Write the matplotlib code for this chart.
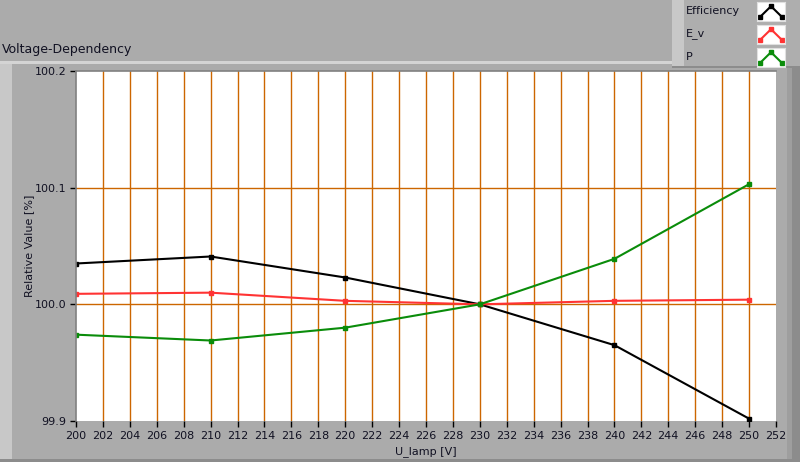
import matplotlib
matplotlib.use("Agg")
from matplotlib import pyplot as plt
from matplotlib.patches import Rectangle

# data
u_lamp = [200, 210, 220, 230, 240, 250]
efficiency = [100.035, 100.041, 100.023, 100.000, 99.965, 99.902]
e_v = [100.009, 100.010, 100.003, 100.000, 100.003, 100.004]
power = [99.974, 99.969, 99.980, 100.000, 100.039, 100.103]

series_names = ["Efficiency", "E_v", "P"]
series_colors = ["#000000", "#FF3333", "#0A8C0A"]

x_ticks = list(range(200, 253, 2))
y_ticks = [99.9, 100.0, 100.1, 100.2]

W, H = 800, 462
BG = "#ABABAB"
GRID = "#CC6600"

fig = plt.figure(figsize=(W / 100, H / 100), dpi=100, facecolor=BG)
plt.rcParams["font.family"] = ["DejaVu Sans"]


def px_rect(x, y, w, h, color, z=-1.0):
    # rectangle in pixel coords (origin top-left), kept behind the axes
    fig.patches.append(Rectangle((x / W, 1 - (y + h) / H), w / W, h / H,
                                 transform=fig.transFigure, facecolor=color,
                                 edgecolor="none", zorder=z))


# frame decoration
px_rect(0, 62, 12, 400, "#C8C8C8")
px_rect(0, 61, 672, 3, "#D4D4D4")
px_rect(787, 62, 5, 400, "#9E9E9E")
px_rect(792, 62, 8, 400, "#8C8C8C")
px_rect(0, 459, 800, 3, "#8C8C8C")

# legend panel
px_rect(672, 0, 128, 68, "#AEAEAE", z=-0.9)
px_rect(672, 0, 12, 68, "#C8C8C8", z=-0.8)
px_rect(672, 66, 128, 2, "#8C8C8C", z=-0.8)

fig.text(2 / W, 1 - 50 / H, "Voltage-Dependency", fontsize=9, color="#111122",
         va="center", ha="left")

ax = fig.add_axes([76 / W, 1 - 421 / H, 700 / W, 350 / H])
ax.set_facecolor("white")

for vals, name, col in zip([efficiency, e_v, power], series_names, series_colors):
    ax.plot(u_lamp, vals, color=col, linewidth=1.5, marker="s", markersize=3,
            label=name, zorder=3)

ax.set_xlim(200, 252)
ax.set_ylim(99.9, 100.2)
ax.set_xticks(x_ticks)
ax.set_xticklabels([str(t) for t in x_ticks])
ax.set_yticks(y_ticks)
ax.set_yticklabels(["%.1f" % t for t in y_ticks])

# grid only inside the plot area (no lines on the frame edges)
for t in x_ticks[1:-1]:
    ax.axvline(t, color=GRID, linewidth=1.0, zorder=1)
for t in y_ticks[1:-1]:
    ax.axhline(t, color=GRID, linewidth=1.0, zorder=1)

ax.tick_params(axis="both", direction="out", length=4, width=1, color="black",
               labelsize=8, labelcolor="#111122", pad=3)
for side in ["right", "bottom"]:
    ax.spines[side].set_visible(False)
for side in ["left", "top"]:
    ax.spines[side].set_color("#808080")
    ax.spines[side].set_linewidth(1.2)
    ax.spines[side].set_zorder(4)

ax.set_xlabel("U_lamp [V]", fontsize=8, color="#111122", labelpad=4)
ax.set_ylabel("Relative Value [%]", fontsize=8, color="#111122")
ax.yaxis.set_label_coords(-0.06, 0.5)

# legend entries with caret swatches
for i, (name, col) in enumerate(zip(series_names, series_colors)):
    ytop = 2 + i * 23
    fig.text(686 / W, 1 - (ytop + 9) / H, name, fontsize=8, color="#111122",
             va="center", ha="left")
    sw = fig.add_axes([757 / W, 1 - (ytop + 19) / H, 28 / W, 19 / H])
    sw.set_facecolor("white")
    sw.plot([0, 1, 2], [0, 1, 0], color=col, linewidth=1.5, marker="s",
            markersize=3)
    sw.set_xlim(-0.3, 2.3)
    sw.set_ylim(-0.4, 1.4)
    sw.set_xticks([])
    sw.set_yticks([])
    for s in sw.spines.values():
        s.set_color("#E0E0E0")

fig.savefig("out.png", dpi=100, facecolor=BG)
